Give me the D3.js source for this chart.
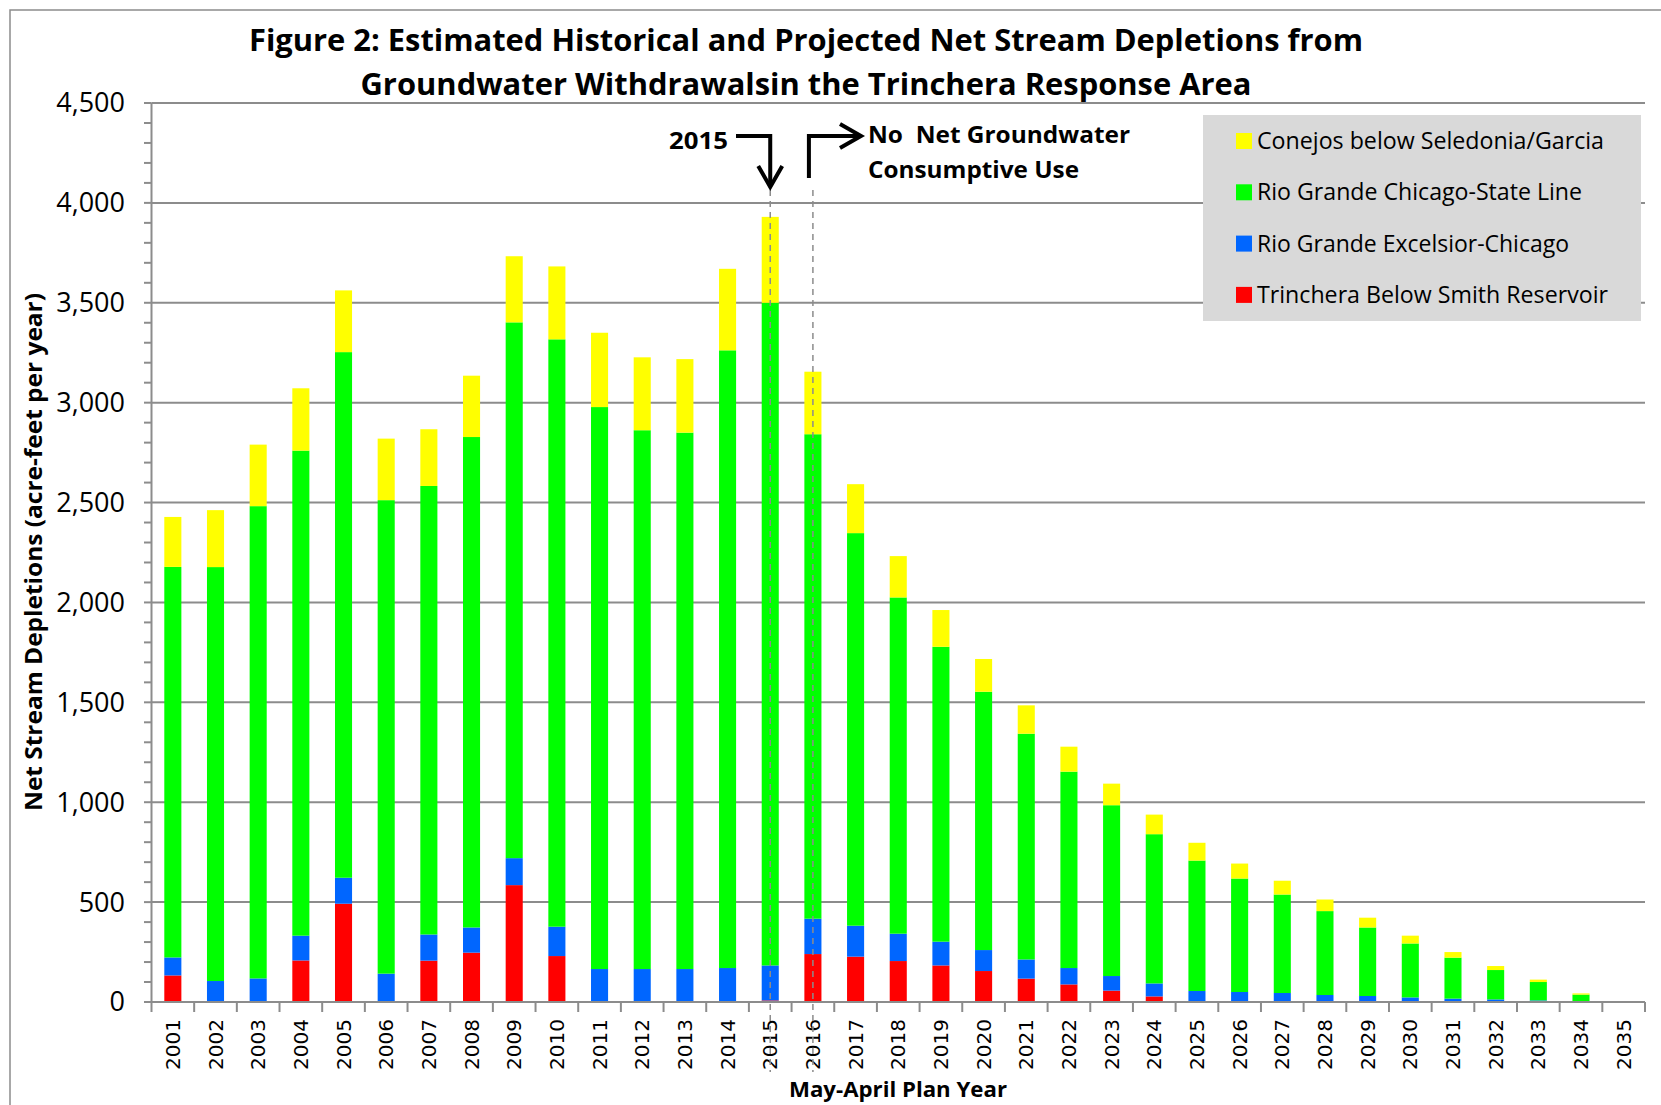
<!DOCTYPE html>
<html><head><meta charset="utf-8">
<script src="https://cdn.jsdelivr.net/npm/d3@7"></script>
<style>body{margin:0;background:#fff;overflow:hidden}</style>
</head><body><svg id="c" width="1661" height="1105"></svg>
<script>
const years = ["2001","2002","2003","2004","2005","2006","2007","2008","2009","2010","2011","2012","2013","2014","2015","2016","2017","2018","2019","2020","2021","2022","2023","2024","2025","2026","2027","2028","2029","2030","2031","2032","2033","2034","2035"];
const trinchera =    [133,0,0,208,492,5,207,247,585,230,5,5,5,5,8,240,227,205,183,155,117,88,57,28,0,0,0,0,0,0,0,0,0,0,0];
const excelsior =    [90,105,118,124,130,137,131,126,135,147,160,160,160,165,175,177,155,137,119,105,96,82,73,65,55,50,45,35,30,23,17,13,8,2,0];
const chicagoState = [1955,2072,2364,2428,2631,2370,2245,2455,2682,2940,2813,2697,2685,3092,3317,2425,1965,1683,1476,1293,1130,983,855,747,653,568,493,420,343,270,205,147,92,35,0];
const conejos =      [250,285,308,312,309,308,284,307,331,365,372,365,368,408,430,313,245,207,184,164,142,125,108,98,89,75,69,58,49,39,28,20,12,6,0];
const seriesKeys = ["trinchera","excelsior","chicagoState","conejos"];
const seriesLabels = ["Trinchera Below Smith Reservoir","Rio Grande Excelsior-Chicago","Rio Grande Chicago-State Line","Conejos below Seledonia/Garcia"];
const seriesColors = ["#ff0000","#0066ff","#00ff00","#ffff00"];
const legendTextWidths = [351,312,325,347];
const yTickValues = [0,500,1000,1500,2000,2500,3000,3500,4000,4500];
const titleLines = ["Figure 2: Estimated Historical and Projected Net Stream Depletions from","Groundwater Withdrawalsin the Trinchera Response Area"];
const markedYears = ["2015","2016"];

const svg = d3.select("#c");
const gridColor = "#8c8c8c";
const font = "'Open Sans', 'DejaVu Sans', sans-serif";

const x = d3.scaleBand().domain(years).range([151.5,1645]).paddingInner(0.6).paddingOuter(0.3);
const y = d3.scaleLinear().domain([0,4500]).range([1002,103]);

function fit(sel, w){ sel.attr("textLength", w).attr("lengthAdjust","spacingAndGlyphs"); return sel; }

// outer frame
svg.append("rect").attr("x",10).attr("y",10).attr("width",1700).attr("height",1200)
  .attr("fill","none").attr("stroke","#8c8c8c").attr("stroke-width",1.5);

// gridlines
svg.append("g").selectAll("line").data(yTickValues.filter(d=>d>0)).join("line")
  .attr("x1",151.5).attr("x2",1645).attr("y1",d=>y(d)).attr("y2",d=>y(d))
  .attr("stroke",gridColor).attr("stroke-width",2);

// data rows
const rows = years.map((yr,i)=>({year:yr, trinchera:trinchera[i], excelsior:excelsior[i], chicagoState:chicagoState[i], conejos:conejos[i]}));
const stacked = d3.stack().keys(seriesKeys)(rows);

svg.append("g").selectAll("g").data(stacked).join("g").attr("fill",(d,i)=>seriesColors[i])
  .selectAll("rect").data(d=>d).join("rect")
  .attr("x",d=>x(d.data.year)).attr("width",x.bandwidth())
  .attr("y",d=>y(d[1])).attr("height",d=>Math.max(0,y(d[0])-y(d[1])));

// y axis
const yAxis = svg.append("g");
yAxis.append("line").attr("x1",151.5).attr("x2",151.5).attr("y1",y(4500)).attr("y2",y(0)).attr("stroke",gridColor).attr("stroke-width",2);
yAxis.selectAll("line.minor").data(d3.range(0,4501,100)).join("line").attr("class","minor")
  .attr("x1",144).attr("x2",151.5).attr("y1",d=>y(d)).attr("y2",d=>y(d)).attr("stroke",gridColor).attr("stroke-width",2);
yAxis.selectAll("text").data(yTickValues).join("text")
  .attr("x",125).attr("y",d=>y(d)).attr("dy","0.35em").attr("text-anchor","end")
  .attr("font-family",font).attr("font-size",27).attr("fill","#000")
  .text(d=>d3.format(",")(d));

// x axis
const xAxis = svg.append("g");
xAxis.append("line").attr("x1",151.5).attr("x2",1645).attr("y1",y(0)).attr("y2",y(0)).attr("stroke",gridColor).attr("stroke-width",2);
const step = x.step();
xAxis.selectAll("line.tk").data(d3.range(0,years.length+1)).join("line").attr("class","tk")
  .attr("x1",k=>151.5+k*step).attr("x2",k=>151.5+k*step).attr("y1",y(0)).attr("y2",y(0)+10)
  .attr("stroke",gridColor).attr("stroke-width",2);
xAxis.selectAll("text").data(years).join("text")
  .attr("transform",d=>`translate(${x(d)+x.bandwidth()/2+7},1019) rotate(-90)`)
  .attr("text-anchor","end").attr("font-family","'DejaVu Sans', sans-serif").attr("font-size",20).attr("fill","#000")
  .text(d=>d);

// dashed marker lines
svg.append("g").selectAll("line").data(markedYears).join("line")
  .attr("x1",d=>x(d)+x.bandwidth()/2).attr("x2",d=>x(d)+x.bandwidth()/2)
  .attr("y1",(d,i)=>i===0?190:190).attr("y2",1072)
  .attr("stroke","#8c8c8c").attr("stroke-width",1.5).attr("stroke-dasharray","6,5");

// title
svg.append("g").selectAll("text").data(titleLines).join("text")
  .attr("x",806).attr("y",(d,i)=>i===0?51:95).attr("text-anchor","middle")
  .attr("font-family",font).attr("font-weight","bold").attr("font-size",30).attr("fill","#000")
  .text(d=>d).each(function(d,i){ fit(d3.select(this), i===0?1114:891); });

// axis titles
fit(svg.append("text").attr("transform","translate(42,552) rotate(-90)").attr("text-anchor","middle")
  .attr("font-family",font).attr("font-weight","bold").attr("font-size",23).text("Net Stream Depletions (acre-feet per year)"),518);
fit(svg.append("text").attr("x",898).attr("y",1097).attr("text-anchor","middle")
  .attr("font-family",font).attr("font-weight","bold").attr("font-size",22).text("May-April Plan Year"),218);

// annotations
const ann = svg.append("g").attr("font-family",font).attr("font-weight","bold").attr("font-size",23).attr("fill","#000")
  .style("white-space","pre");
fit(ann.append("text").attr("x",669).attr("y",149).text("2015"),59);
const x15 = x("2015")+x.bandwidth()/2, x16 = x("2016")+x.bandwidth()/2;
const arrowStyle = g=>g.attr("fill","none").attr("stroke","#000").attr("stroke-width",4).attr("stroke-linejoin","miter");
ann.append("path").attr("d",`M736,136 H${x15} V186`).call(arrowStyle);
ann.append("path").attr("d",`M${x15-12},166 L${x15},187 L${x15+12},166`).call(arrowStyle);
ann.append("path").attr("d",`M${x16-4},178 V136 H860`).call(arrowStyle);
ann.append("path").attr("d",`M840,124 L861,136 L840,148`).call(arrowStyle);
fit(ann.append("text").attr("x",868).attr("y",143).attr("xml:space","preserve").text("No  Net Groundwater"),262);
fit(ann.append("text").attr("x",868).attr("y",178).text("Consumptive Use"),211);

// legend
const lg = svg.append("g");
lg.append("rect").attr("x",1203).attr("y",115).attr("width",438).attr("height",206).attr("fill","#d9d9d9");
const legendOrder = [3,2,1,0];
const li = lg.selectAll("g.item").data(legendOrder).join("g").attr("class","item")
  .attr("transform",(d,i)=>`translate(1236,${141+i*51.3})`);
li.append("rect").attr("x",0).attr("y",-8).attr("width",16).attr("height",16).attr("fill",d=>seriesColors[d]);
li.append("text").attr("x",21).attr("y",0).attr("dy","0.35em").attr("font-family",font).attr("font-size",23).attr("fill","#000")
  .text(d=>seriesLabels[d]).each(function(d){ fit(d3.select(this), legendTextWidths[d]); });
</script>
</body></html>
